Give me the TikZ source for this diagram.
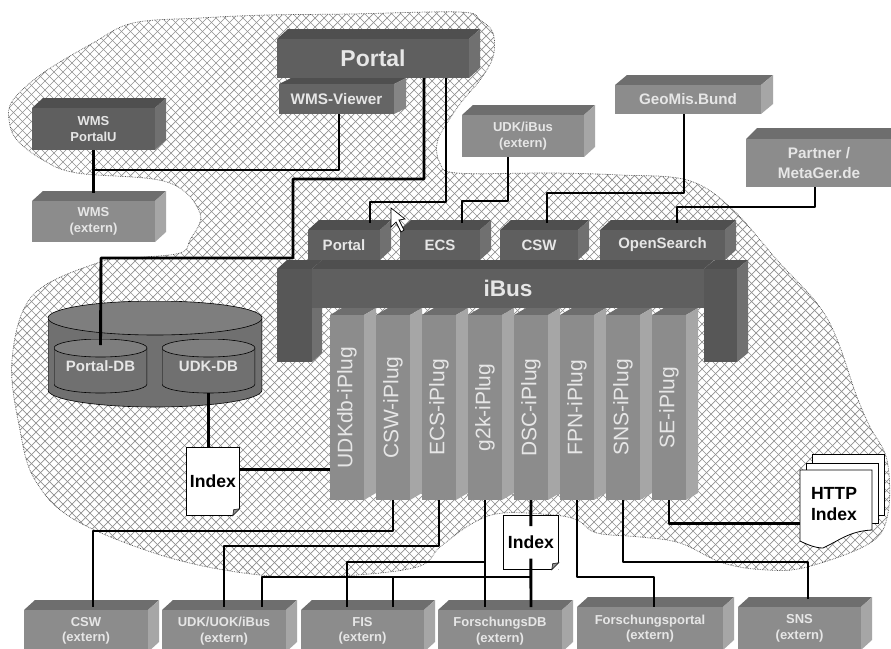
\documentclass[tikz,border=0pt]{standalone}
\usepackage{fontspec}
\setmainfont{Liberation Sans}
\usepackage{xcolor}
\usetikzlibrary{positioning,calc}
\definecolor{boxtext}{HTML}{E6E6E6}
\definecolor{darkfront}{HTML}{5F5F5F}
\definecolor{darktop}{HTML}{4F4F4F}
\definecolor{darkside}{HTML}{707070}
\definecolor{extfront}{HTML}{8C8C8C}
\definecolor{exttop}{HTML}{6E6E6E}
\definecolor{extside}{HTML}{A6A6A6}
\definecolor{hatchline}{HTML}{909090}
\newcommand{\blobpath}{plot[smooth cycle, tension=.6] coordinates {
  (9,120) (13,100) (43,73) (93,43) (133,23) (200,18) (267,15) (350,14) (460,12)
  (480,20) (493,33) (493,57) (480,80) (463,100) (447,123) (437,143) (440,163)
  (457,173) (553,173) (620,175) (687,180) (730,207) (777,260) (827,318) (857,397)
  (870,427) (887,460) (888,513) (870,543) (807,567) (767,570) (723,563) (680,543)
  (640,537) (597,533) (577,520) (553,515) (503,513) (473,523) (440,547) (417,567)
  (340,576) (260,575) (167,557) (75,520) (35,480) (20,430) (12,360) (33,295)
  (100,262) (133,258) (180,253) (190,240) (200,213) (167,182) (77,173) (43,160)
  (17,140)}}
\newcommand{\docfold}[1]{
  \fill[white] (#1.south east) -- ++(-8,1) -- ++(9,-9) -- cycle;
  \filldraw[fill=hatchline, line width=0.5pt]
    ($(#1.south east)+(-7,0)$) -- ++(7,-7) -- ++(-6,1) -- cycle;
}

\begin{document}
\begin{tikzpicture}[
  x=1pt, y=-1pt,
  cube/.style n args={5}{fill=#1, inner sep=0pt, outer sep=0pt, align=center,
    text=boxtext, anchor=north west,
    append after command={\pgfextra{
      \fill[#2] (\tikzlastnode.north west) -- ++(#4,-#5)
        -- ($(\tikzlastnode.north east)+(#4,-#5)$) -- (\tikzlastnode.north east) -- cycle;
      \fill[#3] (\tikzlastnode.north east) -- ++(#4,-#5)
        -- ($(\tikzlastnode.south east)+(#4,-#5)$) -- (\tikzlastnode.south east) -- cycle;
    }}},
  dark/.style={cube={darkfront}{darktop}{darkside}{11}{10}},
  ext/.style={cube={extfront}{exttop}{extside}{11}{10},
              font=\bfseries\fontsize{13}{15.5}\selectfont},
  svc/.style={dark, font=\bfseries\fontsize{15}{18}\selectfont},
  plug/.style={cube={extfront}{exttop}{extside}{12}{7},
               minimum width=34, minimum height=185,
               font=\fontsize{21}{24}\selectfont},
  drum/.style n args={3}{inner sep=0pt, outer sep=0pt, text=boxtext, path picture={
    \filldraw[fill=darkside, line width=0.6pt]
      ($(path picture bounding box.north west)+(0,#2)$)
      -- ($(path picture bounding box.south west)+(0,-#2)$)
      arc[start angle=180, end angle=360, x radius=#1pt, y radius=#2pt]
      -- ($(path picture bounding box.north east)+(0,#2)$) -- cycle;
    \filldraw[fill=#3, line width=0.6pt] ($(path picture bounding box.north)+(0,#2)$)
      ellipse[x radius=#1pt, y radius=#2pt];
  }},
  doc/.style={draw=black, fill=white, line width=0.7pt, inner sep=0pt, anchor=north west,
              font=\bfseries\fontsize{17.6}{21}\selectfont, align=center},
  page/.style={draw=black, fill=white, line width=0.8pt, anchor=north west},
  wire/.style={line width=2.9pt, line join=round}
]
  \path[use as bounding box, clip] (0,0) rectangle (891,648);
  \fill[white] (0,0) rectangle (891,648);
  \begin{scope}
    \clip \blobpath;
    \foreach \k in {-648,-639,...,891} {
      \draw[hatchline, line width=0.7pt] (\k,0) -- ++(648,648);
      \draw[hatchline, line width=0.7pt] (\k+648,0) -- ++(-648,648);
    }
  \end{scope}
  \draw[black!70, densely dotted, line width=0.7pt] \blobpath;

  \node[dark, font=\bfseries\fontsize{13}{15.5}\selectfont, minimum width=123, minimum height=42]
    (wmsportal) at (32,108) {WMS\\PortalU};
  \node[ext, minimum width=123, minimum height=41] (wmsext) at (32,201) {WMS\\(extern)};
  \node[cube={darkside!90!black}{darktop}{darkside!85!white}{12}{6},
        font=\bfseries\fontsize{15.3}{18}\selectfont, minimum width=115, minimum height=30]
    (wmsviewer) at (279,84) {WMS-Viewer};
  \node[dark, font=\bfseries\fontsize{23}{26}\selectfont, minimum width=192, minimum height=39]
    (portal) at (277,39) {Portal};

  \node[ext, minimum width=122, minimum height=42] (udkibus) at (462,115) {UDK/iBus\\(extern)};
  \node[cube={extfront}{exttop}{extside}{12}{10}, font=\bfseries\fontsize{15.2}{18}\selectfont,
        minimum width=146, minimum height=29] (geomis) at (615,85) {GeoMis.Bund};
  \node[cube={extfront}{exttop}{extside}{11}{11}, font=\bfseries\fontsize{15.3}{19.5}\selectfont,
        minimum width=146, minimum height=48] (partner) at (746,139) {Partner /\\MetaGer.de};

  \node[svc, minimum width=72, minimum height=30] (portalsvc) at (308,230) {Portal};
  \node[svc, minimum width=80, minimum height=30] (ecssvc) at (400,230) {ECS};
  \node[svc, minimum width=78, minimum height=30] (cswsvc) at (500,230) {CSW};
  \node[svc, minimum width=125, minimum height=30] (searchsvc) at (600,230) {OpenSearch};

  \node[cube={darkfront!92!black}{darktop}{darkside}{10}{9}, minimum width=35, minimum height=93]
    (ibusleft) at (277,269) {};
  \node[cube={darkfront}{darktop}{darkside}{10}{9}, font=\bfseries\fontsize{22.6}{26}\selectfont,
        minimum width=392, minimum height=39] (ibus) at (312,269) {iBus};
  \node[cube={darkfront!92!black}{darktop}{darkside}{11}{9}, minimum width=33, minimum height=93]
    (ibusright) at (704,269) {};

  \node[plug] (udkplug) at (330,315) {\rotatebox{90}{UDKdb-iPlug}};
  \node[plug, right=12 of udkplug] (cswplug) {\rotatebox{90}{CSW-iPlug}};
  \node[plug, right=12 of cswplug] (ecsplug) {\rotatebox{90}{ECS-iPlug}};
  \node[plug, right=12 of ecsplug] (gtkplug) {\rotatebox{90}{g2k-iPlug}};
  \node[plug, right=12 of gtkplug] (dscplug) {\rotatebox{90}{DSC-iPlug}};
  \node[plug, right=12 of dscplug] (fpnplug) {\rotatebox{90}{FPN-iPlug}};
  \node[plug, right=12 of fpnplug] (snsplug) {\rotatebox{90}{SNS-iPlug}};
  \node[plug, right=12 of snsplug] (seplug) {\rotatebox{90}{SE-iPlug}};

  \node[ext, minimum width=124, minimum height=42] (cswext) at (24,610) {CSW\\(extern)};
  \node[ext, minimum width=124, minimum height=42] (udkuok) at (162,610) {UDK/UOK/iBus\\(extern)};
  \node[ext, minimum width=123, minimum height=42] (fis) at (301,610) {FIS\\(extern)};
  \node[ext, minimum width=124, minimum height=42] (fdb) at (438,610) {ForschungsDB\\(extern)};
  \node[ext, minimum width=146, minimum height=43] (fportal) at (577,607) {Forschungsportal\\(extern)};
  \node[ext, minimum width=123, minimum height=43] (snsext) at (738,607) {SNS\\(extern)};

  \node[drum={107}{17}{extfront!90!black}, minimum width=214, minimum height=106] (store) at (155,354) {};
  \node[drum={46.5}{9}{darkside!90!white}, minimum width=93, minimum height=54,
        font=\bfseries\fontsize{15}{18}\selectfont] (portaldb) at (100.5,366) {\raisebox{-10pt}{Portal-DB}};
  \node[drum={46.5}{9}{darkside!90!white}, minimum width=93, minimum height=54,
        font=\bfseries\fontsize{15}{18}\selectfont] (udkdb) at (208.5,366) {\raisebox{-10pt}{UDK-DB}};

  \node[doc, minimum width=53, minimum height=68] (indexa) at (186,447) {Index};
  \docfold{indexa}
  \node[doc, minimum width=55, minimum height=54] (indexb) at (503,515) {};
  \docfold{indexb}

  \node[page, minimum width=72, minimum height=61] (backpage) at (812,454) {};
  \node[page, minimum width=72, minimum height=60] (midpage) at (806,463) {};
  \filldraw[fill=white, line width=0.8pt] (800,470) -- (872,470) -- (872,530)
    .. controls (850,531) and (840,540) .. (823,548)
    .. controls (815,548) and (806,544) .. (800,541) -- cycle;
  \node[inner sep=0pt, outer sep=0pt, anchor=north west, minimum width=68, minimum height=69, align=center,
        font=\bfseries\fontsize{17.6}{21}\selectfont] (httpidx) at (800,470) {HTTP\\Index};

  \filldraw[fill=white, line width=0.7pt] (391,208) -- (391,227) -- (396,222) -- (401,232)
    -- (404,230) -- (399,220) -- (405,219) -- cycle;

  \coordinate (wmsjoin) at (93.5,170);
  \coordinate (idxout) at ([yshift=12pt]indexa.east);
  \coordinate (gtkjoin) at (485,562);
  \coordinate (dscjoin) at (531,577);
  \coordinate (httpin) at ([yshift=-19pt]httpidx.west);

  \draw[wire] (wmsportal.south) -- ([yshift=8pt]wmsext.north);
  \draw[wire] ([xshift=2.5pt]wmsviewer.south) |- (wmsjoin);
  \draw[wire] ([xshift=51pt]portal.south) -- ++(0,101) -- ++(-131,0) -- ++(0,79) -- ++(-192,0)
    -- ([yshift=-6pt]portaldb.north);
  \draw[wire] ([xshift=73pt]portal.south) -- ++(0,124) -- ++(-76,0) -- ([xshift=26pt,yshift=7pt]portalsvc.north);
  \draw[wire] ([xshift=-15pt]udkibus.south) -- ++(0,44) -- ++(-46,0) -- ([xshift=22pt,yshift=7pt]ecssvc.north);
  \draw[wire] ([xshift=-4pt]geomis.south) -- ++(0,79) -- ++(-137,0) -- ([xshift=8pt,yshift=7pt]cswsvc.north);
  \draw[wire] ([xshift=-4pt]partner.south) -- ++(0,20) -- ++(-138,0) -- ([xshift=14.5pt,yshift=7pt]searchsvc.north);
  \draw[wire] (udkdb.south) -- (udkdb.south |- indexa.north);
  \draw[wire] (idxout) -- (idxout -| udkplug.west);
  \draw[wire] (cswplug.south) -- ++(0,31) -| ([xshift=7pt,yshift=3pt]cswext.north);
  \draw[wire] (ecsplug.south) -- ++(0,46) -| ([yshift=3pt]udkuok.north);
  \draw[wire] (gtkplug.south) -- ([xshift=-15pt,yshift=3pt]fdb.north);
  \draw[wire] (gtkjoin) -| ([xshift=-15.5pt,yshift=3pt]fis.north);
  \node[inner sep=0pt, fill=white, minimum width=50, minimum height=32, font=\bfseries\fontsize{17.6}{21}\selectfont]
    (indextext) at (indexb.center) {Index};
  \draw[wire] (dscplug.south) -- (indextext.north);
  \draw[wire] (indextext.south) -- ([xshift=31pt,yshift=3pt]fdb.north);
  \draw[wire] (dscjoin) -| ([xshift=38pt,yshift=3pt]udkuok.north);
  \draw[wire] ([xshift=30.5pt,yshift=3pt]fis.north) |- (dscjoin);
  \draw[wire] (fpnplug.south) -- ++(0,77) -| ([xshift=4pt]fportal.north);
  \draw[wire] (snsplug.south) -- ++(0,62) -| ([xshift=8.5pt,yshift=8pt]snsext.north);
  \draw[wire] (seplug.south) |- (httpin);
\end{tikzpicture}
\end{document}
